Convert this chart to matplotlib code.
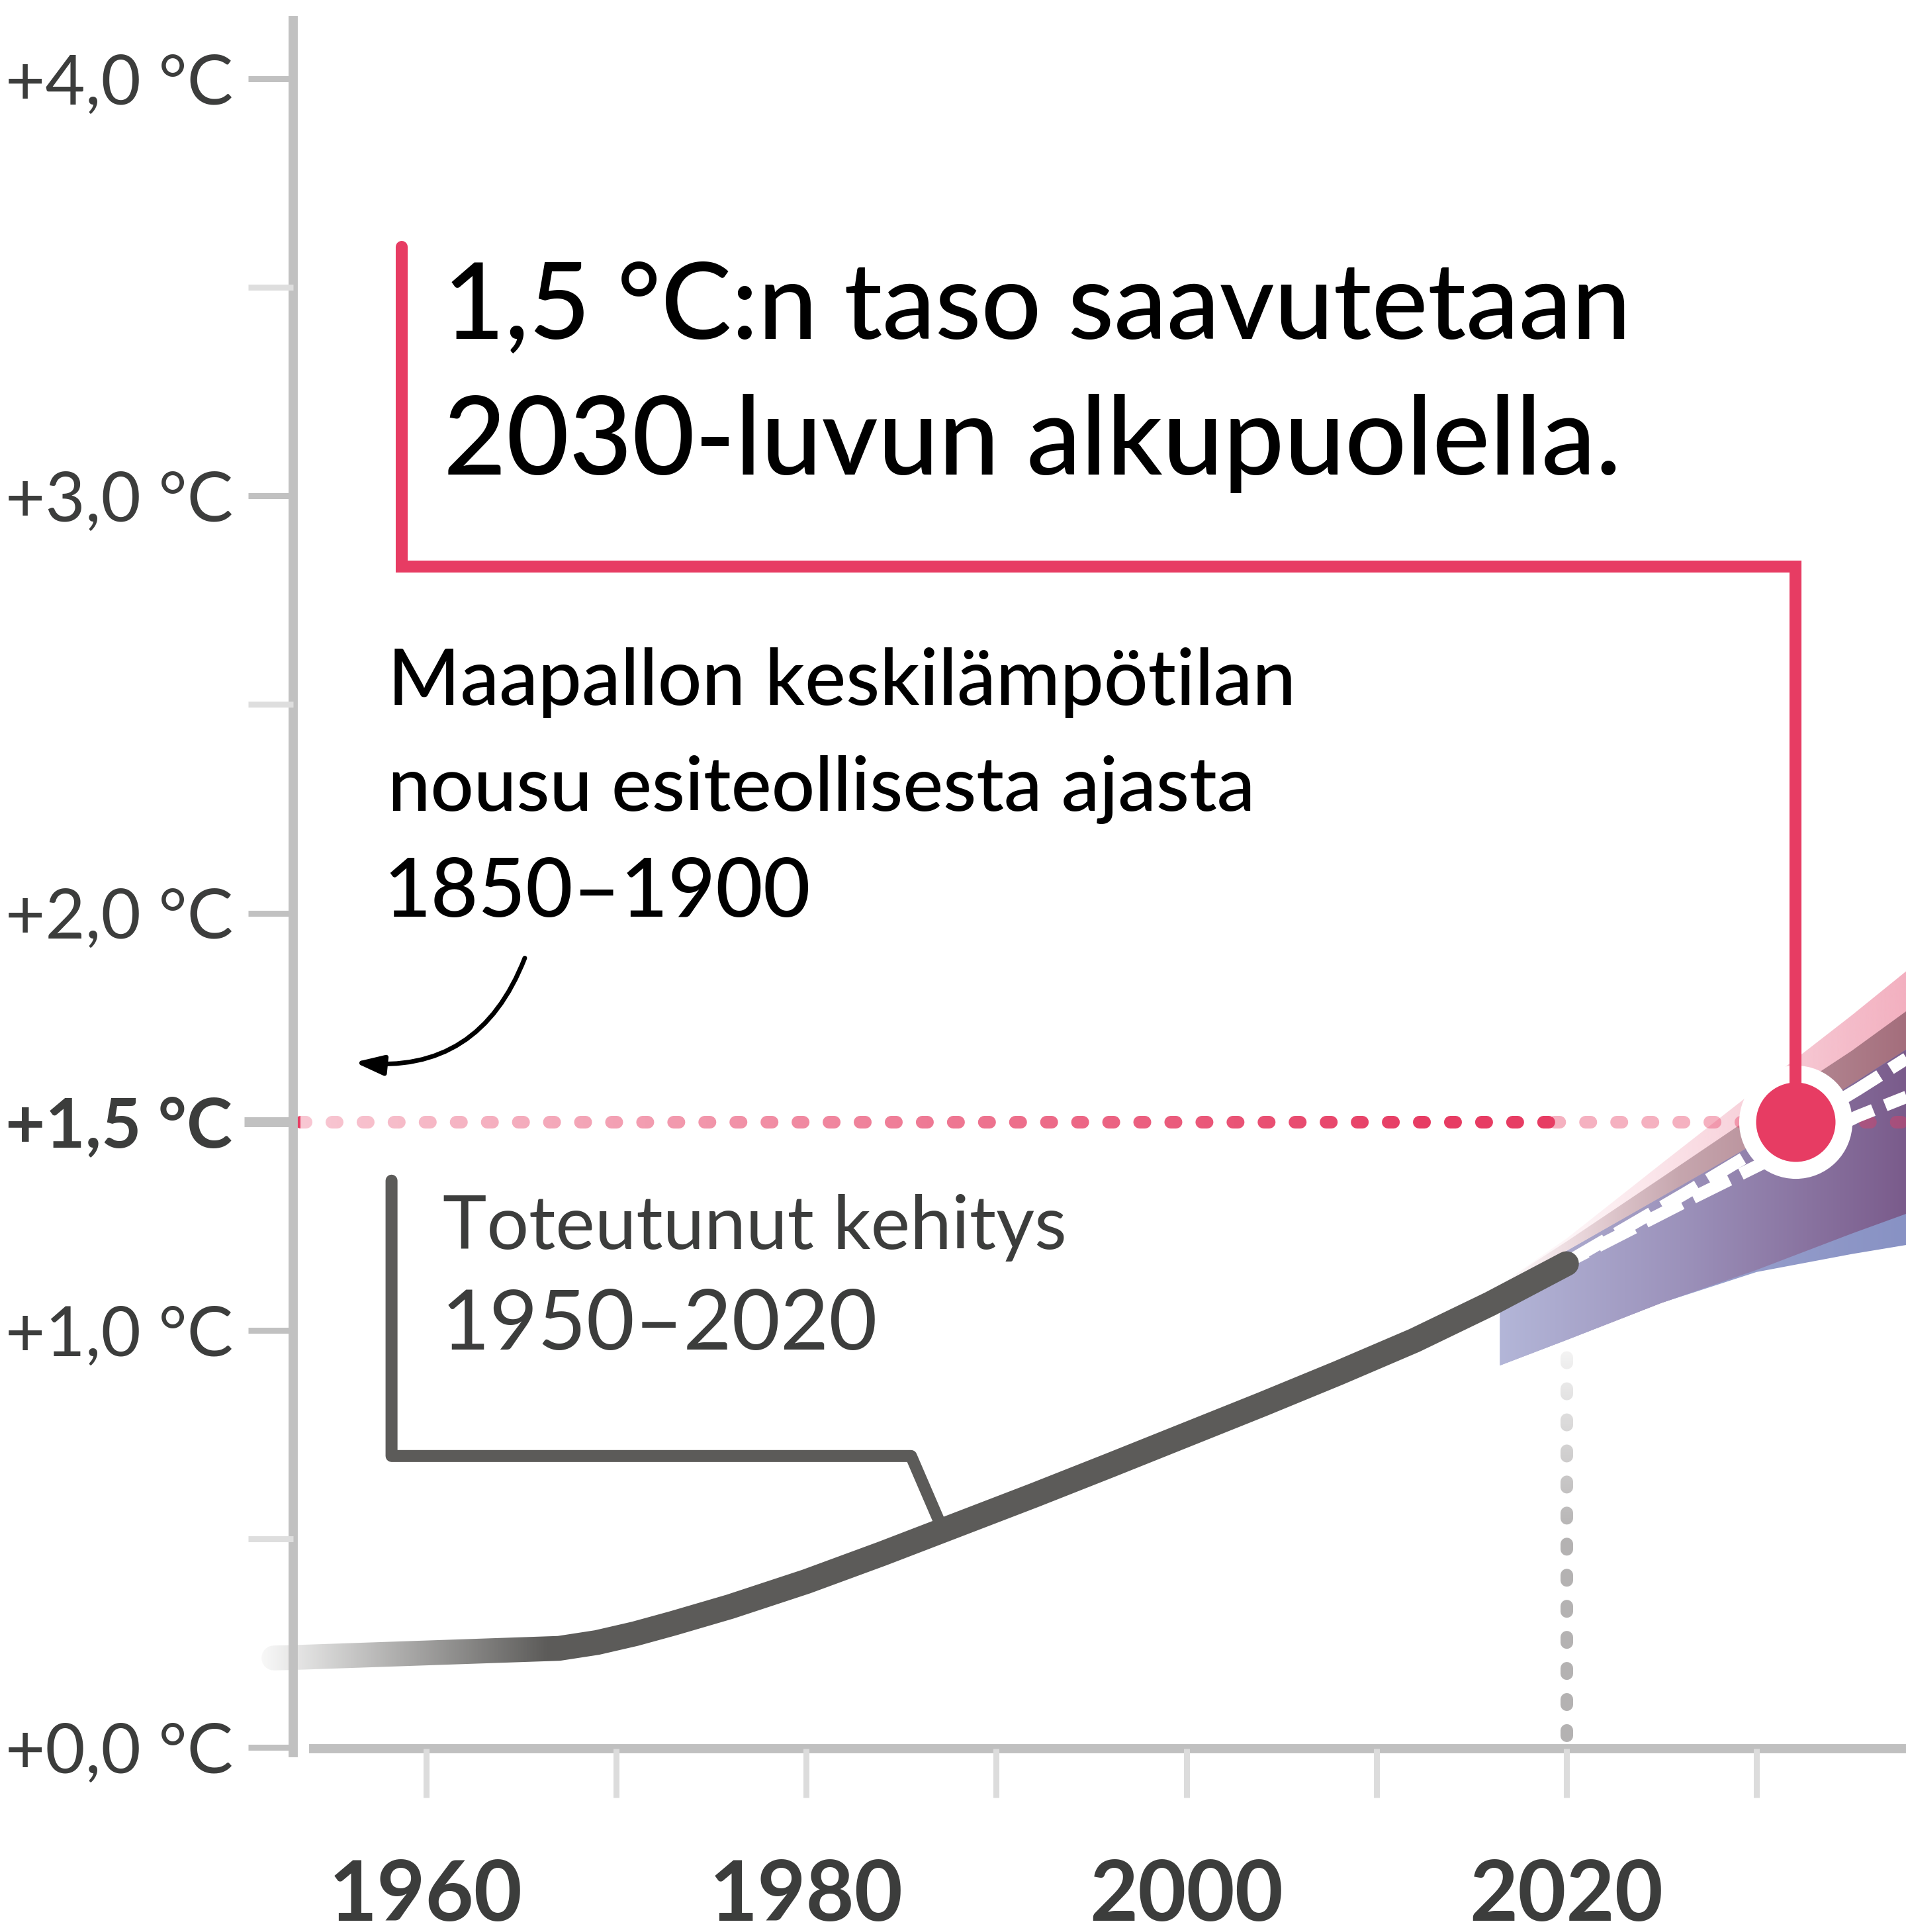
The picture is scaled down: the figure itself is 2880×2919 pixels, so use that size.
#%% imports

import numpy as np
import matplotlib.pyplot as plt
from matplotlib.colors import to_rgb

plt.rcParams['font.family'] = ['Lato', 'DejaVu Sans']
plt.rcParams['lines.scale_dashes'] = False

#%% data

# observed warming, degrees above 1850-1900
hist_years = [1952, 1953, 1960, 1967, 1969, 1971, 1973, 1976, 1980, 1984, 1988,
              1992, 1996, 2000, 2004, 2008, 2012, 2016, 2020]
hist_temp = [0.215, 0.216, 0.227, 0.238, 0.252, 0.273, 0.298, 0.338, 0.398, 0.465,
             0.535, 0.605, 0.677, 0.750, 0.823, 0.898, 0.976, 1.064, 1.160]

# projection fan
fan_years = [2016.5, 2020, 2025, 2030, 2035, 2037.9]
pink_upper = [1.11, 1.22, 1.40, 1.578, 1.755, 1.862]
brown_upper = [1.11, 1.213, 1.366, 1.52, 1.67, 1.766]
purple_upper = [1.10, 1.19, 1.32, 1.45, 1.59, 1.674]
purple_lower = [0.916, 0.977, 1.066, 1.145, 1.232, 1.28]
blue_lower = [0.916, 0.977, 1.066, 1.14, 1.183, 1.205]

# two median paths (white dashes)
median_years = [2020.2, 2026.3, 2035.3, 2037.9]
median_a = [1.168, 1.33, 1.577, 1.652]
median_b = [1.168, 1.31, 1.513, 1.56]

target_temp = 1.5
cross_year = 2032.05
now_year = 2020

yticks = [0, 1, 1.5, 2, 3, 4]
ytick_labels = ['+0,0 °C', '+1,0 °C', '+1,5 °C', '+2,0 °C', '+3,0 °C', '+4,0 °C']
minor_yticks = [0.5, 2.5, 3.5]
xticks = [1960, 1970, 1980, 1990, 2000, 2010, 2020, 2030]
xtick_labels = ['1960', '', '1980', '', '2000', '', '2020', '']

red = '#e73c63'
dark = '#3c3d3c'
line_gray = '#5c5b59'

#%% helpers


def band(ax, lo, hi, stops, z):
    # fill between lo and hi with a left-to-right colour ramp
    poly = ax.fill_between(fan_years, lo, hi, facecolor='none', edgecolor='none', zorder=z)
    xs = np.linspace(fan_years[0], fan_years[-1], 400)
    sx = [s[0] for s in stops]
    rgba = np.zeros((1, len(xs), 4))
    for k in range(3):
        rgba[0, :, k] = np.interp(xs, sx, [to_rgb(s[1])[k] for s in stops])
    rgba[0, :, 3] = np.interp(xs, sx, [s[2] for s in stops])
    im = ax.imshow(rgba, extent=[xs[0], xs[-1], min(lo) - 0.05, max(hi) + 0.05],
                   origin='lower', aspect='auto', interpolation='bilinear', zorder=z)
    im.set_clip_path(poly.get_paths()[0], transform=ax.transData)


def white_fade(ax, extent, a0, a1, vertical=False, z=3):
    t = np.linspace(a0, a1, 256)
    if vertical:
        rgba = np.ones((256, 1, 4))
        rgba[:, 0, 3] = t
    else:
        rgba = np.ones((1, 256, 4))
        rgba[0, :, 3] = t
    ax.imshow(rgba, extent=extent, origin='lower', aspect='auto',
              interpolation='bilinear', zorder=z)


#%% figure

fig = plt.figure(figsize=(28.8, 29.19), dpi=100)
ax = fig.add_axes([0, 0, 1, 1])

dots = (0, (5.8, 28))

# vertical dotted line at 2020
ax.plot([now_year, now_year], [0.03, 0.968], color='#b4b2b2', lw=13.7,
        linestyle=dots, dash_capstyle='round', zorder=1.5)
white_fade(ax, [now_year - 0.6, now_year + 0.6, 0.5, 0.975], 0, 0.9, vertical=True, z=1.6)

# fan
band(ax, purple_lower, pink_upper,
     [(2016.5, '#f3b0c0', 0.0), (2022, '#f3b0c0', 0.2), (2029, '#f3b0c0', 0.55), (2037.9, '#f3b0c0', 1.0)], 2.0)
band(ax, purple_lower, brown_upper,
     [(2016.5, '#e9d3d8', 0.0), (2023, '#d9c0c6', 1.0), (2026, '#c6a6ae', 1.0), (2037.9, '#a46e7c', 1.0)], 2.1)
band(ax, blue_lower, purple_upper,
     [(2016.5, '#a9aed6', 1.0), (2037.9, '#8892c4', 1.0)], 2.2)
band(ax, purple_lower, purple_upper,
     [(2016.5, '#b3b6d8', 1.0), (2026, '#9c92bb', 1.0), (2037.9, '#7a5b8b', 1.0)], 2.3)

# 1.5 degree dotted line
ax.plot([1953.4, now_year], [target_temp, target_temp], color=red, lw=13.7,
        linestyle=dots, dash_capstyle='round', zorder=3)
white_fade(ax, [1953.4, 2013, target_temp - 0.03, target_temp + 0.03], 0.72, 0.0, z=3.1)
ax.plot([2018.3, 2037.9], [target_temp, target_temp], color=red, alpha=0.4, lw=13.7,
        linestyle=(12, (5.8, 28)), dash_capstyle='round', zorder=3.2)

# medians
ax.plot(median_years, median_a, color='white', lw=13.5, linestyle=(0, (44, 14)), zorder=3.5)
ax.plot(median_years, median_b, color='white', lw=13.5, linestyle=(24, (44, 14)), zorder=3.5)

# observed line
ax.plot(hist_years, hist_temp, color=line_gray, lw=27, solid_capstyle='round',
        solid_joinstyle='round', zorder=4)
white_fade(ax, [1950.8, 1966.5, 0.1, 0.36], 1.0, 0.0, z=4.1)

# brackets
ax.plot([1958.73, 1958.73, cross_year, cross_year], [3.597, 2.831, 2.831, target_temp],
        color=red, lw=13, solid_capstyle='round', solid_joinstyle='miter', zorder=8)
ax.plot(cross_year, target_temp, 'o', ms=104.8, mfc=red, mec='white', mew=18.4, zorder=7)

end_year = 1987.0
ax.plot([1958.19, 1958.19, 1985.52, end_year],
        [1.359, 0.699, 0.699, np.interp(end_year, hist_years, hist_temp) + 0.025],
        color=line_gray, lw=13, solid_capstyle='round', solid_joinstyle='round', zorder=6)

ax.annotate('', xy=(1956.25, 1.6426), xytext=(1965.2, 1.8925),
            arrowprops=dict(arrowstyle='-|>,head_length=26,head_width=9', mutation_scale=1,
                            connectionstyle='arc3,rad=-0.38', color='black', lw=5,
                            shrinkA=0, shrinkB=0), zorder=6)

# texts
ax.text(1960.92, 3.377, '1,5 °C:n taso saavutetaan', fontsize=115, fontweight='medium',
        color='black', va='baseline', zorder=9)
ax.text(1960.92, 3.052, '2030-luvun alkupuolella.', fontsize=118, fontweight='medium',
        color='black', va='baseline', zorder=9)

ax.text(1957.98, 2.499, 'Maapallon keskilämpötilan', fontsize=84.5, fontweight='medium',
        color='black', va='baseline', zorder=9)
ax.text(1957.98, 2.2454, 'nousu esiteollisesta ajasta', fontsize=83, fontweight='medium',
        color='black', va='baseline', zorder=9)
ax.text(1957.75, 1.9916, '1850–1900', fontsize=89, fontweight='medium',
        color='black', va='baseline', zorder=9)

ax.text(1960.87, 1.196, 'Toteutunut kehitys', fontsize=81, color=dark,
        va='baseline', zorder=9)
ax.text(1960.81, 0.954, '1950–2020', fontsize=91, color=dark,
        va='baseline', zorder=9)

#%% axes styling

for side in ['top', 'right']:
    ax.spines[side].set_visible(False)
ax.spines['left'].set_position(('data', 1953.0))
ax.spines['left'].set_bounds(-0.012, 4.14)
ax.spines['left'].set_color('#c1c1c1')
ax.spines['left'].set_linewidth(10)
ax.spines['bottom'].set_position(('data', -0.003))
ax.spines['bottom'].set_bounds(1954.1, 2037.9)
ax.spines['bottom'].set_color('#c0c0c0')
ax.spines['bottom'].set_linewidth(10)
for sp in ax.spines.values():
    sp.set_zorder(5)
ax.xaxis.set_zorder(5)
ax.yaxis.set_zorder(5)

ax.set_yticks(yticks, ytick_labels)
ax.set_yticks(minor_yticks, minor=True)
ax.tick_params(axis='y', which='major', direction='out', length=49, width=6.5,
               color='#c1c1c1', pad=264, labelsize=75, labelcolor=dark)
ax.tick_params(axis='y', which='minor', direction='out', length=49, width=6.5,
               color='#dedede')
for lab in ax.get_yticklabels():
    lab.set_horizontalalignment('left')
ax.get_yticklabels()[2].set_fontweight('bold')
t15 = ax.yaxis.get_major_ticks()[2]
t15.tick1line.set_color(red)
t15.tick1line.set_markersize(53)
t15.tick1line.set_markeredgewidth(10.8)

ax.set_xticks(xticks, xtick_labels)
ax.tick_params(axis='x', direction='out', length=53, width=6.5, color='#dcdcdc',
               pad=66, labelsize=91, labelcolor=dark)
for lab in ax.get_xticklabels():
    lab.set_fontweight('bold')

ax.set_xlim(1937.593, 2037.86)
ax.set_ylim(-0.4418, 4.1886)

fig.savefig('out.png', dpi=100)
